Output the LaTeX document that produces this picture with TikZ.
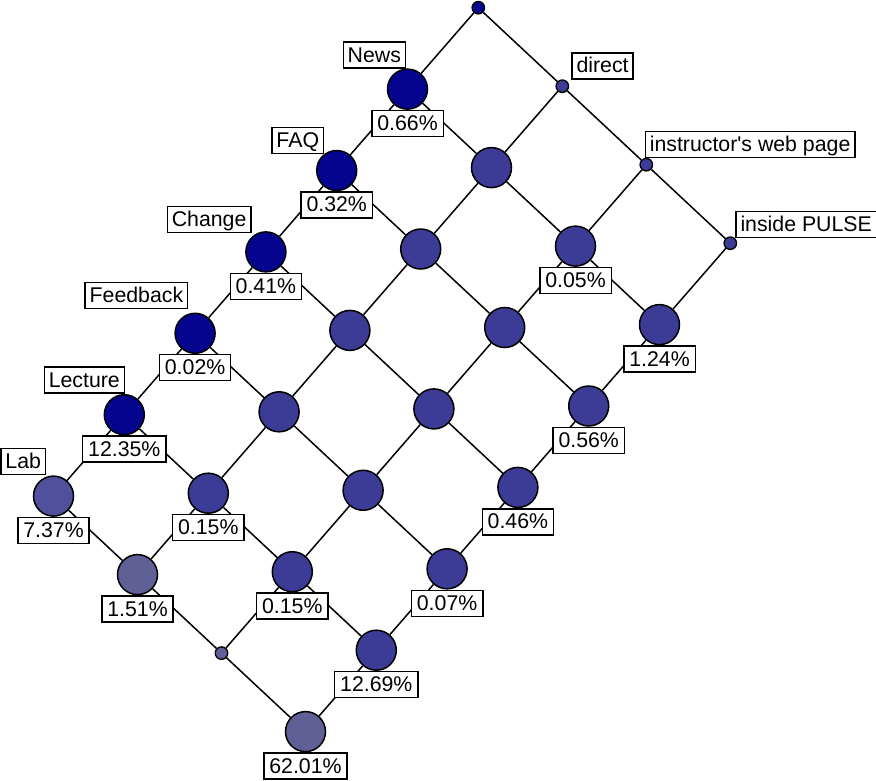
\documentclass[tikz,border=0pt]{standalone}
\usepackage{fontspec}
\setmainfont{Liberation Sans}
\usepackage{tikz}
\usetikzlibrary{positioning,calc}
\definecolor{cdark}{RGB}{4,4,142}
\definecolor{cmid}{RGB}{60,60,150}
\definecolor{clab}{RGB}{80,80,156}
\definecolor{cpale}{RGB}{96,96,150}
\tikzstyle{cbig} = [circle,draw,line width=1.5pt,minimum size=40pt,inner sep=0pt]
\tikzstyle{csmall} = [circle,draw,line width=1.3pt,minimum size=12.5pt,inner sep=0pt]
\tikzstyle{attr} = [rectangle,draw,fill=white,line width=1.4pt,inner xsep=4.5pt,inner ysep=5pt,text height=15pt,text depth=1pt]
\tikzstyle{obj} = [attr,inner xsep=5.5pt]

\begin{document}
\begin{tikzpicture}[x=1pt,y=-1pt,line width=1.5pt,font=\fontsize{21.3}{25}\selectfont]
    \useasboundingbox (0,0) rectangle (876,780);
    % left chain
    \node[csmall,fill=cdark] (c00) at (478.3,7.7) {};
    \node[cbig,fill=cdark] (c10) at ($(c00)+(-70.8,81.4)$) {};
    \node[cbig,fill=cdark] (c20) at ($(c10)+(-70.8,81.4)$) {};
    \node[cbig,fill=cdark] (c30) at ($(c20)+(-70.8,81.4)$) {};
    \node[cbig,fill=cdark] (c40) at ($(c30)+(-70.8,81.4)$) {};
    \node[cbig,fill=cdark] (c50) at ($(c40)+(-70.8,81.4)$) {};
    \node[cbig,fill=clab] (c60) at ($(c50)+(-70.8,81.4)$) {};
    % second column
    \node[csmall,fill=cmid] (c01) at ($(c00)+(84,78.5)$) {};
    \node[cbig,fill=cmid] (c11) at ($(c10)+(84,78.5)$) {};
    \node[cbig,fill=cmid] (c21) at ($(c20)+(84,78.5)$) {};
    \node[cbig,fill=cmid] (c31) at ($(c30)+(84,78.5)$) {};
    \node[cbig,fill=cmid] (c41) at ($(c40)+(84,78.5)$) {};
    \node[cbig,fill=cmid] (c51) at ($(c50)+(84,78.5)$) {};
    \node[cbig,fill=cpale] (c61) at ($(c60)+(84,78.5)$) {};
    % third column
    \node[csmall,fill=cmid] (c02) at ($(c01)+(84,78.5)$) {};
    \node[cbig,fill=cmid] (c12) at ($(c11)+(84,78.5)$) {};
    \node[cbig,fill=cmid] (c22) at ($(c21)+(84,78.5)$) {};
    \node[cbig,fill=cmid] (c32) at ($(c31)+(84,78.5)$) {};
    \node[cbig,fill=cmid] (c42) at ($(c41)+(84,78.5)$) {};
    \node[cbig,fill=cmid] (c52) at ($(c51)+(84,78.5)$) {};
    \node[csmall,fill=cpale] (c62) at ($(c61)+(84,78.5)$) {};
    % right chain
    \node[csmall,fill=cmid] (c03) at ($(c02)+(84,78.5)$) {};
    \node[cbig,fill=cmid] (c13) at ($(c12)+(84,78.5)$) {};
    \node[cbig,fill=cmid] (c23) at ($(c22)+(84,78.5)$) {};
    \node[cbig,fill=cmid] (c33) at ($(c32)+(84,78.5)$) {};
    \node[cbig,fill=cmid] (c43) at ($(c42)+(84,78.5)$) {};
    \node[cbig,fill=cmid] (c53) at ($(c52)+(84,78.5)$) {};
    \node[cbig,fill=cpale] (c63) at ($(c62)+(84,78.5)$) {};
    % lines
    \draw (c00) -- (c10) -- (c20) -- (c30) -- (c40) -- (c50) -- (c60);
    \draw (c01) -- (c11) -- (c21) -- (c31) -- (c41) -- (c51) -- (c61);
    \draw (c02) -- (c12) -- (c22) -- (c32) -- (c42) -- (c52) -- (c62);
    \draw (c03) -- (c13) -- (c23) -- (c33) -- (c43) -- (c53) -- (c63);
    \draw (c00) -- (c01) -- (c02) -- (c03);
    \draw (c10) -- (c11) -- (c12) -- (c13);
    \draw (c20) -- (c21) -- (c22) -- (c23);
    \draw (c30) -- (c31) -- (c32) -- (c33);
    \draw (c40) -- (c41) -- (c42) -- (c43);
    \draw (c50) -- (c51) -- (c52) -- (c53);
    \draw (c60) -- (c61) -- (c62) -- (c63);
    % attribute labels
    \node[attr,anchor=south east] (lnews) at ($(c10)+(-1.3,-20.3)$) {News};
    \node[attr,anchor=south east] (lfaq) at ($(c20)+(-12.4,-16.6)$) {FAQ};
    \node[attr,anchor=south east] (lchange) at ($(c30)+(-14.3,-18.7)$) {Change};
    \node[attr,anchor=south east] (lfeedback) at ($(c40)+(-6.7,-24)$) {Feedback};
    \node[attr,anchor=south east] (llecture) at ($(c50)+(0.7,-21)$) {Lecture};
    \node[attr,anchor=south east] (llab) at ($(c60)+(-7.3,-21)$) {Lab};
    \node[attr,anchor=south west] (ldirect) at ($(c01)+(9,-6.7)$) {direct};
    \node[attr,anchor=south west] (linstr) at ($(c02)+(-1.7,-6.7)$) {instructor\textquotesingle s web page};
    \node[attr,anchor=south west] (lpulse) at ($(c03)+(5,-5)$) {inside PULSE};
    % object counts
    \node[obj,below=0pt of c10] (p10) {0.66\%};
    \node[obj,below=0pt of c20] (p20) {0.32\%};
    \node[obj,below=0pt of c30] (p30) {0.41\%};
    \node[obj,below=0pt of c40] (p40) {0.02\%};
    \node[obj,below=0pt of c50] (p50) {12.35\%};
    \node[obj,below=0pt of c60] (p60) {7.37\%};
    \node[obj,below=0pt of c51] (p51) {0.15\%};
    \node[obj,below=0pt of c61] (p61) {1.51\%};
    \node[obj,below=0pt of c52] (p52) {0.15\%};
    \node[obj,below=0pt of c12] (p12) {0.05\%};
    \node[obj,below=0pt of c13] (p13) {1.24\%};
    \node[obj,below=0pt of c23] (p23) {0.56\%};
    \node[obj,below=0pt of c33] (p33) {0.46\%};
    \node[obj,below=0pt of c43] (p43) {0.07\%};
    \node[obj,below=0pt of c53] (p53) {12.69\%};
    \node[obj,below=0pt of c63] (p63) {62.01\%};
\end{tikzpicture}
\end{document}
